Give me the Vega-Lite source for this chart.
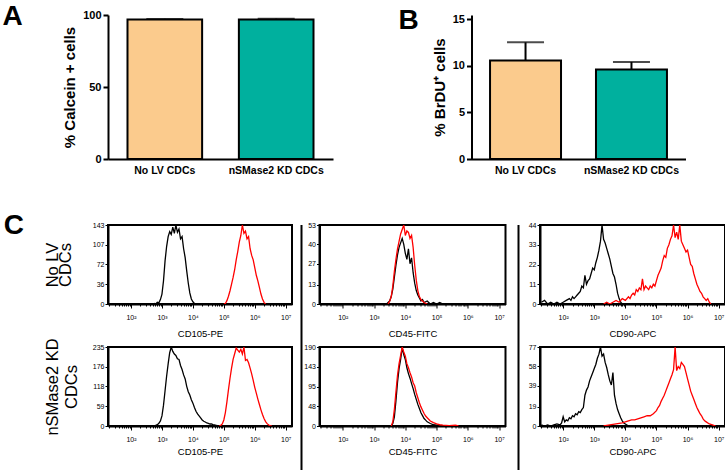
{
"$schema": "https://vega.github.io/schema/vega-lite/v6.json",
"padding": {"left": 2, "top": 3, "right": 0, "bottom": 0},
"background": "white",
"config": {"font": "Liberation Sans", "view": {"stroke": null}, "axis": {"domainColor": "black", "tickColor": "black", "labelColor": "black", "titleColor": "black", "grid": false}},
"datasets": {
"calcein": [{"group": "No LV CDCs", "mean": 96.8, "upper": 97.3}, {"group": "nSMase2 KD CDCs", "mean": 96.9, "upper": 97.4}],
"brdu": [{"group": "No LV CDCs", "mean": 10.55, "upper": 12.5}, {"group": "nSMase2 KD CDCs", "mean": 9.6, "upper": 10.4}],
"pct": [{"p": "a1", "t": "94%"}, {"p": "a2", "t": "0.8%"}, {"p": "a3", "t": "99%"}, {"p": "b1", "t": "95%"}, {"p": "b2", "t": "0.5%"}, {"p": "b3", "t": "98%"}],
"hist": [
{"p":"a1","s":"c","x":501.2,"y":0},{"p":"a1","s":"c","x":562.3,"y":1},{"p":"a1","s":"c","x":631,"y":0},{"p":"a1","s":"c","x":707.9,"y":3},{"p":"a1","s":"c","x":794.3,"y":2},{"p":"a1","s":"c","x":891.3,"y":8},{"p":"a1","s":"c","x":1000,"y":18},{"p":"a1","s":"c","x":1122,"y":42},{"p":"a1","s":"c","x":1259,"y":78},{"p":"a1","s":"c","x":1413,"y":104},{"p":"a1","s":"c","x":1585,"y":122},{"p":"a1","s":"c","x":1778,"y":131},{"p":"a1","s":"c","x":1995,"y":126},{"p":"a1","s":"c","x":2239,"y":139},{"p":"a1","s":"c","x":2512,"y":128},{"p":"a1","s":"c","x":2818,"y":143},{"p":"a1","s":"c","x":3162,"y":130},{"p":"a1","s":"c","x":3548,"y":136},{"p":"a1","s":"c","x":3981,"y":118},{"p":"a1","s":"c","x":4467,"y":122},{"p":"a1","s":"c","x":5012,"y":100},{"p":"a1","s":"c","x":5623,"y":84},{"p":"a1","s":"c","x":6310,"y":60},{"p":"a1","s":"c","x":7079,"y":38},{"p":"a1","s":"c","x":7943,"y":20},{"p":"a1","s":"c","x":8913,"y":9},{"p":"a1","s":"c","x":10000,"y":4},{"p":"a1","s":"c","x":11220,"y":1},{"p":"a1","s":"c","x":12590,"y":0},
{"p":"a1","s":"s","x":100000,"y":0},{"p":"a1","s":"s","x":112200,"y":1},{"p":"a1","s":"s","x":125900,"y":6},{"p":"a1","s":"s","x":141300,"y":14},{"p":"a1","s":"s","x":158500,"y":24},{"p":"a1","s":"s","x":177800,"y":36},{"p":"a1","s":"s","x":199500,"y":48},{"p":"a1","s":"s","x":223900,"y":62},{"p":"a1","s":"s","x":251200,"y":80},{"p":"a1","s":"s","x":281800,"y":95},{"p":"a1","s":"s","x":316200,"y":112},{"p":"a1","s":"s","x":354800,"y":124},{"p":"a1","s":"s","x":398100,"y":143},{"p":"a1","s":"s","x":446700,"y":128},{"p":"a1","s":"s","x":501200,"y":132},{"p":"a1","s":"s","x":562300,"y":118},{"p":"a1","s":"s","x":631000,"y":122},{"p":"a1","s":"s","x":707900,"y":100},{"p":"a1","s":"s","x":794300,"y":88},{"p":"a1","s":"s","x":891300,"y":80},{"p":"a1","s":"s","x":1000000,"y":66},{"p":"a1","s":"s","x":1122000,"y":52},{"p":"a1","s":"s","x":1259000,"y":42},{"p":"a1","s":"s","x":1413000,"y":30},{"p":"a1","s":"s","x":1585000,"y":18},{"p":"a1","s":"s","x":1778000,"y":9},{"p":"a1","s":"s","x":1995000,"y":3},{"p":"a1","s":"s","x":2239000,"y":0},
{"p":"a2","s":"c","x":2512,"y":0},{"p":"a2","s":"c","x":2818,"y":1},{"p":"a2","s":"c","x":3162,"y":2},{"p":"a2","s":"c","x":3548,"y":5},{"p":"a2","s":"c","x":3981,"y":10},{"p":"a2","s":"c","x":4467,"y":18},{"p":"a2","s":"c","x":5012,"y":26},{"p":"a2","s":"c","x":5623,"y":33},{"p":"a2","s":"c","x":6310,"y":38},{"p":"a2","s":"c","x":7079,"y":41},{"p":"a2","s":"c","x":7943,"y":44},{"p":"a2","s":"c","x":8913,"y":40},{"p":"a2","s":"c","x":10000,"y":34},{"p":"a2","s":"c","x":11220,"y":30},{"p":"a2","s":"c","x":12590,"y":37},{"p":"a2","s":"c","x":14130,"y":27},{"p":"a2","s":"c","x":15850,"y":31},{"p":"a2","s":"c","x":17780,"y":21},{"p":"a2","s":"c","x":19950,"y":14},{"p":"a2","s":"c","x":22390,"y":9},{"p":"a2","s":"c","x":25120,"y":6},{"p":"a2","s":"c","x":28180,"y":4},{"p":"a2","s":"c","x":31620,"y":2},{"p":"a2","s":"c","x":35480,"y":3},{"p":"a2","s":"c","x":39810,"y":1},{"p":"a2","s":"c","x":50120,"y":2},{"p":"a2","s":"c","x":63100,"y":0},{"p":"a2","s":"c","x":79430,"y":1},{"p":"a2","s":"c","x":100000,"y":0},{"p":"a2","s":"c","x":125900,"y":1},{"p":"a2","s":"c","x":158500,"y":0},
{"p":"a2","s":"s","x":2818,"y":0},{"p":"a2","s":"s","x":3162,"y":2},{"p":"a2","s":"s","x":3548,"y":5},{"p":"a2","s":"s","x":3981,"y":12},{"p":"a2","s":"s","x":4467,"y":22},{"p":"a2","s":"s","x":5012,"y":30},{"p":"a2","s":"s","x":5623,"y":37},{"p":"a2","s":"s","x":6310,"y":42},{"p":"a2","s":"s","x":7079,"y":47},{"p":"a2","s":"s","x":7943,"y":50},{"p":"a2","s":"s","x":8913,"y":53},{"p":"a2","s":"s","x":10000,"y":46},{"p":"a2","s":"s","x":11220,"y":49},{"p":"a2","s":"s","x":12590,"y":48},{"p":"a2","s":"s","x":14130,"y":44},{"p":"a2","s":"s","x":15850,"y":46},{"p":"a2","s":"s","x":17780,"y":38},{"p":"a2","s":"s","x":19950,"y":26},{"p":"a2","s":"s","x":22390,"y":16},{"p":"a2","s":"s","x":25120,"y":9},{"p":"a2","s":"s","x":28180,"y":5},{"p":"a2","s":"s","x":31620,"y":3},{"p":"a2","s":"s","x":35480,"y":2},{"p":"a2","s":"s","x":39810,"y":1},{"p":"a2","s":"s","x":50120,"y":0},
{"p":"a3","s":"c","x":19.95,"y":1},{"p":"a3","s":"c","x":25.12,"y":2},{"p":"a3","s":"c","x":31.62,"y":0},{"p":"a3","s":"c","x":39.81,"y":1},{"p":"a3","s":"c","x":50.12,"y":0},{"p":"a3","s":"c","x":63.1,"y":1},{"p":"a3","s":"c","x":79.43,"y":0},{"p":"a3","s":"c","x":100,"y":1},{"p":"a3","s":"c","x":125.9,"y":2},{"p":"a3","s":"c","x":158.5,"y":3},{"p":"a3","s":"c","x":177.8,"y":2},{"p":"a3","s":"c","x":199.5,"y":4},{"p":"a3","s":"c","x":223.9,"y":3},{"p":"a3","s":"c","x":251.2,"y":4},{"p":"a3","s":"c","x":281.8,"y":5},{"p":"a3","s":"c","x":316.2,"y":6},{"p":"a3","s":"c","x":354.8,"y":7},{"p":"a3","s":"c","x":398.1,"y":10},{"p":"a3","s":"c","x":446.7,"y":9},{"p":"a3","s":"c","x":501.2,"y":16},{"p":"a3","s":"c","x":562.3,"y":11},{"p":"a3","s":"c","x":631,"y":13},{"p":"a3","s":"c","x":707.9,"y":14},{"p":"a3","s":"c","x":794.3,"y":17},{"p":"a3","s":"c","x":891.3,"y":20},{"p":"a3","s":"c","x":1000,"y":19},{"p":"a3","s":"c","x":1122,"y":23},{"p":"a3","s":"c","x":1259,"y":26},{"p":"a3","s":"c","x":1413,"y":30},{"p":"a3","s":"c","x":1585,"y":35},{"p":"a3","s":"c","x":1778,"y":44},{"p":"a3","s":"c","x":1995,"y":36},{"p":"a3","s":"c","x":2239,"y":34},{"p":"a3","s":"c","x":2512,"y":31},{"p":"a3","s":"c","x":2818,"y":28},{"p":"a3","s":"c","x":3162,"y":25},{"p":"a3","s":"c","x":3548,"y":21},{"p":"a3","s":"c","x":3981,"y":17},{"p":"a3","s":"c","x":4467,"y":15},{"p":"a3","s":"c","x":5012,"y":11},{"p":"a3","s":"c","x":5623,"y":6},{"p":"a3","s":"c","x":6310,"y":3},{"p":"a3","s":"c","x":7079,"y":1},{"p":"a3","s":"c","x":7943,"y":0},
{"p":"a3","s":"s","x":1995,"y":0},{"p":"a3","s":"s","x":2512,"y":1},{"p":"a3","s":"s","x":3162,"y":0},{"p":"a3","s":"s","x":3981,"y":1},{"p":"a3","s":"s","x":5012,"y":2},{"p":"a3","s":"s","x":6310,"y":1},{"p":"a3","s":"s","x":7943,"y":3},{"p":"a3","s":"s","x":10000,"y":2},{"p":"a3","s":"s","x":12590,"y":4},{"p":"a3","s":"s","x":14130,"y":3},{"p":"a3","s":"s","x":15850,"y":5},{"p":"a3","s":"s","x":17780,"y":6},{"p":"a3","s":"s","x":19950,"y":5},{"p":"a3","s":"s","x":22390,"y":8},{"p":"a3","s":"s","x":25120,"y":7},{"p":"a3","s":"s","x":28180,"y":9},{"p":"a3","s":"s","x":31620,"y":8},{"p":"a3","s":"s","x":35480,"y":14},{"p":"a3","s":"s","x":39810,"y":8},{"p":"a3","s":"s","x":44670,"y":10},{"p":"a3","s":"s","x":50120,"y":9},{"p":"a3","s":"s","x":56230,"y":8},{"p":"a3","s":"s","x":63100,"y":10},{"p":"a3","s":"s","x":70790,"y":9},{"p":"a3","s":"s","x":79430,"y":11},{"p":"a3","s":"s","x":89130,"y":10},{"p":"a3","s":"s","x":100000,"y":13},{"p":"a3","s":"s","x":112200,"y":16},{"p":"a3","s":"s","x":125900,"y":18},{"p":"a3","s":"s","x":141300,"y":20},{"p":"a3","s":"s","x":158500,"y":24},{"p":"a3","s":"s","x":177800,"y":27},{"p":"a3","s":"s","x":199500,"y":26},{"p":"a3","s":"s","x":223900,"y":31},{"p":"a3","s":"s","x":251200,"y":33},{"p":"a3","s":"s","x":281800,"y":36},{"p":"a3","s":"s","x":316200,"y":38},{"p":"a3","s":"s","x":354800,"y":44},{"p":"a3","s":"s","x":398100,"y":37},{"p":"a3","s":"s","x":446700,"y":40},{"p":"a3","s":"s","x":501200,"y":36},{"p":"a3","s":"s","x":562300,"y":44},{"p":"a3","s":"s","x":631000,"y":35},{"p":"a3","s":"s","x":707900,"y":33},{"p":"a3","s":"s","x":794300,"y":31},{"p":"a3","s":"s","x":891300,"y":29},{"p":"a3","s":"s","x":1000000,"y":30},{"p":"a3","s":"s","x":1122000,"y":26},{"p":"a3","s":"s","x":1259000,"y":22},{"p":"a3","s":"s","x":1413000,"y":21},{"p":"a3","s":"s","x":1585000,"y":17},{"p":"a3","s":"s","x":1778000,"y":14},{"p":"a3","s":"s","x":1995000,"y":11},{"p":"a3","s":"s","x":2239000,"y":9},{"p":"a3","s":"s","x":2512000,"y":7},{"p":"a3","s":"s","x":2818000,"y":6},{"p":"a3","s":"s","x":3162000,"y":4},{"p":"a3","s":"s","x":3548000,"y":3},{"p":"a3","s":"s","x":3981000,"y":2},{"p":"a3","s":"s","x":4467000,"y":3},{"p":"a3","s":"s","x":5012000,"y":1},{"p":"a3","s":"s","x":5623000,"y":0},
{"p":"b1","s":"c","x":562.3,"y":0},{"p":"b1","s":"c","x":631,"y":2},{"p":"b1","s":"c","x":707.9,"y":4},{"p":"b1","s":"c","x":794.3,"y":8},{"p":"b1","s":"c","x":891.3,"y":15},{"p":"b1","s":"c","x":1000,"y":30},{"p":"b1","s":"c","x":1122,"y":62},{"p":"b1","s":"c","x":1259,"y":105},{"p":"b1","s":"c","x":1413,"y":148},{"p":"b1","s":"c","x":1585,"y":185},{"p":"b1","s":"c","x":1778,"y":218},{"p":"b1","s":"c","x":1995,"y":235},{"p":"b1","s":"c","x":2239,"y":222},{"p":"b1","s":"c","x":2512,"y":214},{"p":"b1","s":"c","x":2818,"y":210},{"p":"b1","s":"c","x":3162,"y":200},{"p":"b1","s":"c","x":3548,"y":198},{"p":"b1","s":"c","x":3981,"y":180},{"p":"b1","s":"c","x":4467,"y":168},{"p":"b1","s":"c","x":5012,"y":152},{"p":"b1","s":"c","x":5623,"y":140},{"p":"b1","s":"c","x":6310,"y":118},{"p":"b1","s":"c","x":7079,"y":102},{"p":"b1","s":"c","x":7943,"y":92},{"p":"b1","s":"c","x":8913,"y":78},{"p":"b1","s":"c","x":10000,"y":68},{"p":"b1","s":"c","x":11220,"y":55},{"p":"b1","s":"c","x":12590,"y":44},{"p":"b1","s":"c","x":14130,"y":36},{"p":"b1","s":"c","x":15850,"y":30},{"p":"b1","s":"c","x":17780,"y":24},{"p":"b1","s":"c","x":19950,"y":18},{"p":"b1","s":"c","x":22390,"y":14},{"p":"b1","s":"c","x":25120,"y":12},{"p":"b1","s":"c","x":28180,"y":9},{"p":"b1","s":"c","x":31620,"y":8},{"p":"b1","s":"c","x":35480,"y":6},{"p":"b1","s":"c","x":39810,"y":6},{"p":"b1","s":"c","x":44670,"y":4},{"p":"b1","s":"c","x":50120,"y":3},{"p":"b1","s":"c","x":56230,"y":2},{"p":"b1","s":"c","x":63100,"y":1},{"p":"b1","s":"c","x":70790,"y":0},
{"p":"b1","s":"s","x":70790,"y":0},{"p":"b1","s":"s","x":79430,"y":2},{"p":"b1","s":"s","x":89130,"y":6},{"p":"b1","s":"s","x":100000,"y":18},{"p":"b1","s":"s","x":112200,"y":40},{"p":"b1","s":"s","x":125900,"y":72},{"p":"b1","s":"s","x":141300,"y":108},{"p":"b1","s":"s","x":158500,"y":142},{"p":"b1","s":"s","x":177800,"y":172},{"p":"b1","s":"s","x":199500,"y":198},{"p":"b1","s":"s","x":223900,"y":215},{"p":"b1","s":"s","x":251200,"y":232},{"p":"b1","s":"s","x":281800,"y":226},{"p":"b1","s":"s","x":316200,"y":220},{"p":"b1","s":"s","x":354800,"y":228},{"p":"b1","s":"s","x":398100,"y":214},{"p":"b1","s":"s","x":446700,"y":235},{"p":"b1","s":"s","x":501200,"y":195},{"p":"b1","s":"s","x":562300,"y":198},{"p":"b1","s":"s","x":631000,"y":188},{"p":"b1","s":"s","x":707900,"y":172},{"p":"b1","s":"s","x":794300,"y":155},{"p":"b1","s":"s","x":891300,"y":136},{"p":"b1","s":"s","x":1000000,"y":115},{"p":"b1","s":"s","x":1122000,"y":98},{"p":"b1","s":"s","x":1259000,"y":80},{"p":"b1","s":"s","x":1413000,"y":64},{"p":"b1","s":"s","x":1585000,"y":48},{"p":"b1","s":"s","x":1778000,"y":34},{"p":"b1","s":"s","x":1995000,"y":22},{"p":"b1","s":"s","x":2239000,"y":13},{"p":"b1","s":"s","x":2512000,"y":7},{"p":"b1","s":"s","x":2818000,"y":3},{"p":"b1","s":"s","x":3162000,"y":1},{"p":"b1","s":"s","x":3548000,"y":0},
{"p":"b2","s":"c","x":3548,"y":0},{"p":"b2","s":"c","x":3981,"y":6},{"p":"b2","s":"c","x":4467,"y":22},{"p":"b2","s":"c","x":5012,"y":60},{"p":"b2","s":"c","x":5623,"y":105},{"p":"b2","s":"c","x":6310,"y":138},{"p":"b2","s":"c","x":7079,"y":160},{"p":"b2","s":"c","x":7943,"y":188},{"p":"b2","s":"c","x":8913,"y":172},{"p":"b2","s":"c","x":10000,"y":160},{"p":"b2","s":"c","x":11220,"y":140},{"p":"b2","s":"c","x":12590,"y":126},{"p":"b2","s":"c","x":14130,"y":115},{"p":"b2","s":"c","x":15850,"y":102},{"p":"b2","s":"c","x":17780,"y":90},{"p":"b2","s":"c","x":19950,"y":76},{"p":"b2","s":"c","x":22390,"y":64},{"p":"b2","s":"c","x":25120,"y":52},{"p":"b2","s":"c","x":28180,"y":42},{"p":"b2","s":"c","x":31620,"y":32},{"p":"b2","s":"c","x":35480,"y":25},{"p":"b2","s":"c","x":39810,"y":18},{"p":"b2","s":"c","x":44670,"y":14},{"p":"b2","s":"c","x":50120,"y":10},{"p":"b2","s":"c","x":63100,"y":6},{"p":"b2","s":"c","x":79430,"y":3},{"p":"b2","s":"c","x":100000,"y":2},{"p":"b2","s":"c","x":125900,"y":1},{"p":"b2","s":"c","x":158500,"y":0},
{"p":"b2","s":"s","x":3548,"y":0},{"p":"b2","s":"s","x":3981,"y":10},{"p":"b2","s":"s","x":4467,"y":40},{"p":"b2","s":"s","x":5012,"y":82},{"p":"b2","s":"s","x":5623,"y":122},{"p":"b2","s":"s","x":6310,"y":150},{"p":"b2","s":"s","x":7079,"y":170},{"p":"b2","s":"s","x":7943,"y":190},{"p":"b2","s":"s","x":8913,"y":178},{"p":"b2","s":"s","x":10000,"y":168},{"p":"b2","s":"s","x":11220,"y":150},{"p":"b2","s":"s","x":12590,"y":140},{"p":"b2","s":"s","x":14130,"y":128},{"p":"b2","s":"s","x":15850,"y":118},{"p":"b2","s":"s","x":17780,"y":104},{"p":"b2","s":"s","x":19950,"y":96},{"p":"b2","s":"s","x":22390,"y":80},{"p":"b2","s":"s","x":25120,"y":68},{"p":"b2","s":"s","x":28180,"y":56},{"p":"b2","s":"s","x":31620,"y":46},{"p":"b2","s":"s","x":35480,"y":38},{"p":"b2","s":"s","x":39810,"y":30},{"p":"b2","s":"s","x":44670,"y":24},{"p":"b2","s":"s","x":50120,"y":20},{"p":"b2","s":"s","x":63100,"y":12},{"p":"b2","s":"s","x":79430,"y":8},{"p":"b2","s":"s","x":100000,"y":5},{"p":"b2","s":"s","x":125900,"y":3},{"p":"b2","s":"s","x":158500,"y":2},{"p":"b2","s":"s","x":251200,"y":1},{"p":"b2","s":"s","x":398100,"y":2},{"p":"b2","s":"s","x":501200,"y":0},
{"p":"b3","s":"c","x":19.95,"y":1},{"p":"b3","s":"c","x":25.12,"y":0},{"p":"b3","s":"c","x":31.62,"y":1},{"p":"b3","s":"c","x":39.81,"y":0},{"p":"b3","s":"c","x":50.12,"y":1},{"p":"b3","s":"c","x":63.1,"y":2},{"p":"b3","s":"c","x":79.43,"y":1},{"p":"b3","s":"c","x":89.13,"y":3},{"p":"b3","s":"c","x":100,"y":9},{"p":"b3","s":"c","x":112.2,"y":4},{"p":"b3","s":"c","x":125.9,"y":6},{"p":"b3","s":"c","x":141.3,"y":5},{"p":"b3","s":"c","x":158.5,"y":8},{"p":"b3","s":"c","x":177.8,"y":7},{"p":"b3","s":"c","x":199.5,"y":10},{"p":"b3","s":"c","x":223.9,"y":9},{"p":"b3","s":"c","x":251.2,"y":12},{"p":"b3","s":"c","x":281.8,"y":11},{"p":"b3","s":"c","x":316.2,"y":14},{"p":"b3","s":"c","x":354.8,"y":13},{"p":"b3","s":"c","x":398.1,"y":16},{"p":"b3","s":"c","x":446.7,"y":18},{"p":"b3","s":"c","x":501.2,"y":30},{"p":"b3","s":"c","x":562.3,"y":35},{"p":"b3","s":"c","x":631,"y":38},{"p":"b3","s":"c","x":707.9,"y":44},{"p":"b3","s":"c","x":794.3,"y":48},{"p":"b3","s":"c","x":891.3,"y":52},{"p":"b3","s":"c","x":1000,"y":56},{"p":"b3","s":"c","x":1122,"y":60},{"p":"b3","s":"c","x":1259,"y":66},{"p":"b3","s":"c","x":1413,"y":70},{"p":"b3","s":"c","x":1585,"y":77},{"p":"b3","s":"c","x":1778,"y":68},{"p":"b3","s":"c","x":1995,"y":70},{"p":"b3","s":"c","x":2239,"y":62},{"p":"b3","s":"c","x":2512,"y":57},{"p":"b3","s":"c","x":2818,"y":50},{"p":"b3","s":"c","x":3162,"y":44},{"p":"b3","s":"c","x":3548,"y":40},{"p":"b3","s":"c","x":3981,"y":52},{"p":"b3","s":"c","x":4467,"y":30},{"p":"b3","s":"c","x":5012,"y":22},{"p":"b3","s":"c","x":5623,"y":16},{"p":"b3","s":"c","x":6310,"y":12},{"p":"b3","s":"c","x":7079,"y":8},{"p":"b3","s":"c","x":7943,"y":5},{"p":"b3","s":"c","x":8913,"y":3},{"p":"b3","s":"c","x":10000,"y":2},{"p":"b3","s":"c","x":12590,"y":0},
{"p":"b3","s":"s","x":1995,"y":0},{"p":"b3","s":"s","x":3162,"y":1},{"p":"b3","s":"s","x":5012,"y":2},{"p":"b3","s":"s","x":7943,"y":3},{"p":"b3","s":"s","x":10000,"y":4},{"p":"b3","s":"s","x":12590,"y":5},{"p":"b3","s":"s","x":15850,"y":6},{"p":"b3","s":"s","x":19950,"y":6},{"p":"b3","s":"s","x":25120,"y":7},{"p":"b3","s":"s","x":31620,"y":8},{"p":"b3","s":"s","x":39810,"y":9},{"p":"b3","s":"s","x":50120,"y":10},{"p":"b3","s":"s","x":63100,"y":10},{"p":"b3","s":"s","x":79430,"y":12},{"p":"b3","s":"s","x":100000,"y":15},{"p":"b3","s":"s","x":112200,"y":18},{"p":"b3","s":"s","x":125900,"y":20},{"p":"b3","s":"s","x":141300,"y":24},{"p":"b3","s":"s","x":158500,"y":27},{"p":"b3","s":"s","x":177800,"y":30},{"p":"b3","s":"s","x":199500,"y":34},{"p":"b3","s":"s","x":223900,"y":38},{"p":"b3","s":"s","x":251200,"y":42},{"p":"b3","s":"s","x":281800,"y":46},{"p":"b3","s":"s","x":316200,"y":50},{"p":"b3","s":"s","x":354800,"y":55},{"p":"b3","s":"s","x":398100,"y":77},{"p":"b3","s":"s","x":446700,"y":54},{"p":"b3","s":"s","x":501200,"y":58},{"p":"b3","s":"s","x":562300,"y":56},{"p":"b3","s":"s","x":631000,"y":62},{"p":"b3","s":"s","x":707900,"y":60},{"p":"b3","s":"s","x":794300,"y":58},{"p":"b3","s":"s","x":891300,"y":52},{"p":"b3","s":"s","x":1000000,"y":46},{"p":"b3","s":"s","x":1122000,"y":40},{"p":"b3","s":"s","x":1259000,"y":34},{"p":"b3","s":"s","x":1413000,"y":30},{"p":"b3","s":"s","x":1585000,"y":26},{"p":"b3","s":"s","x":1778000,"y":22},{"p":"b3","s":"s","x":1995000,"y":18},{"p":"b3","s":"s","x":2239000,"y":15},{"p":"b3","s":"s","x":2512000,"y":12},{"p":"b3","s":"s","x":2818000,"y":10},{"p":"b3","s":"s","x":3162000,"y":7},{"p":"b3","s":"s","x":3548000,"y":5},{"p":"b3","s":"s","x":3981000,"y":4},{"p":"b3","s":"s","x":5012000,"y":2},{"p":"b3","s":"s","x":6310000,"y":1},{"p":"b3","s":"s","x":7943000,"y":0}
]
},
"columns": 1,
"align": "none",
"spacing": 35,
"concat": [
{
"spacing": 65.5,
"hconcat": [
{
"width": 225, "height": 144,
"title": {"text": "A", "anchor": "start", "frame": "group", "fontSize": 28, "fontWeight": "bold", "baseline": "alphabetic", "offset": -44, "dx": -105.5, "color": "black"},
"data": {"name": "calcein"},
"encoding": {"x": {"field": "group", "type": "nominal", "sort": null, "scale": {"paddingInner": 0.33, "paddingOuter": 0.175}, "axis": {"title": null, "ticks": false, "labelAngle": 0, "labelFontSize": 10.5, "labelFontWeight": "bold", "labelPadding": 6, "domainWidth": 2}}},
"layer": [
{"mark": {"type": "bar", "stroke": "black", "strokeWidth": 2}, "encoding": {"y": {"field": "mean", "type": "quantitative", "scale": {"domain": [0, 100], "nice": false}, "axis": {"values": [0, 25, 50, 75, 100], "title": "% Calcein + cells", "titleFontSize": 15, "titleFontWeight": "bold", "labelFontSize": 11, "labelFontWeight": "bold", "tickSize": 5, "tickWidth": 2, "domainWidth": 2, "labelPadding": 2, "titlePadding": 5}}, "color": {"field": "group", "type": "nominal", "scale": {"domain": ["No LV CDCs", "nSMase2 KD CDCs"], "range": ["#FBCB8D", "#00B09E"]}, "legend": null}}},
{"mark": {"type": "rule", "color": "black", "strokeWidth": 2}, "encoding": {"y": {"field": "mean", "type": "quantitative"}, "y2": {"field": "upper"}}},
{"mark": {"type": "tick", "color": "black", "thickness": 2, "size": 37}, "encoding": {"y": {"field": "upper", "type": "quantitative"}}}
]
},
{
"width": 214, "height": 144,
"title": {"text": "B", "anchor": "start", "frame": "group", "fontSize": 28, "fontWeight": "bold", "baseline": "alphabetic", "offset": -44, "dx": -73, "color": "black"},
"data": {"name": "brdu"},
"encoding": {"x": {"field": "group", "type": "nominal", "sort": null, "scale": {"paddingInner": 0.33, "paddingOuter": 0.175}, "axis": {"title": null, "ticks": false, "labelAngle": 0, "labelFontSize": 10.5, "labelFontWeight": "bold", "labelPadding": 6, "domainWidth": 2}}},
"layer": [
{"mark": {"type": "bar", "stroke": "black", "strokeWidth": 2}, "encoding": {"y": {"field": "mean", "type": "quantitative", "scale": {"domain": [0, 15.43], "nice": false}, "axis": {"values": [0, 5, 10, 15], "title": "% BrDU⁺ cells", "titleFontSize": 15, "titleFontWeight": "bold", "labelFontSize": 11, "labelFontWeight": "bold", "tickSize": 5, "tickWidth": 2, "domainWidth": 2, "labelPadding": 2, "titlePadding": 5}}, "color": {"field": "group", "type": "nominal", "scale": {"domain": ["No LV CDCs", "nSMase2 KD CDCs"], "range": ["#FBCB8D", "#00B09E"]}, "legend": null}}},
{"mark": {"type": "rule", "color": "black", "strokeWidth": 2}, "encoding": {"y": {"field": "mean", "type": "quantitative"}, "y2": {"field": "upper"}}},
{"mark": {"type": "tick", "color": "black", "thickness": 2, "size": 37}, "encoding": {"y": {"field": "upper", "type": "quantitative"}}}
]
}
]
},
{
"title": {"text": "C", "anchor": "start", "frame": "bounds", "fontSize": 28, "fontWeight": "bold", "baseline": "alphabetic", "offset": -41.5, "dx": -40, "color": "black"},
"spacing": 7.5,
"hconcat": [
{
"bounds": "flush", "spacing": 43,
"vconcat": [
{
"width": 184, "height": 79, "view": {"stroke": "black", "strokeWidth": 2},
"encoding": {
"x": {"field": "x", "type": "quantitative", "scale": {"type": "log", "domain": [18, 16000000], "nice": false}, "axis": {"title": "CD105-PE", "titleFontSize": 9.5, "titleFontWeight": "normal", "titlePadding": 8, "values": [20,30,40,50,60,70,80,90,100,200,300,400,500,600,700,800,900,1000,2000,3000,4000,5000,6000,7000,8000,9000,10000,20000,30000,40000,50000,60000,70000,80000,90000,100000,200000,300000,400000,500000,600000,700000,800000,900000,1000000,2000000,3000000,4000000,5000000,6000000,7000000,8000000,9000000,10000000], "labelExpr": "abs(log(datum.value)/LN10 - round(log(datum.value)/LN10)) < 0.001 ? '10' + ['⁰','¹','²','³','⁴','⁵','⁶','⁷'][round(log(datum.value)/LN10)] : ''", "labelFontSize": 7, "labelPadding": 5.5, "labelFlush": false, "labelOverlap": false, "tickSize": {"condition": {"test": "abs(log(datum.value)/LN10 - round(log(datum.value)/LN10)) < 0.001", "value": 4}, "value": 2}, "tickWidth": 1, "domainWidth": 2}},
"y": {"field": "y", "type": "quantitative", "scale": {"domain": [0, 143], "nice": false}, "axis": {"title": ["No LV", "CDCs"], "titleFontSize": 16.5, "titleFontWeight": "normal", "titleLineHeight": 13, "titlePadding": 18.5, "values": [0, 36, 72, 107, 143], "labelFontSize": 7, "labelPadding": 1, "tickSize": 3, "tickWidth": 1, "domainWidth": 2}}},
"layer": [
{"data": {"name": "hist"}, "transform": [{"filter": "datum.p === 'a1' && datum.s === 'c'"}], "mark": {"type": "line", "color": "black", "strokeWidth": 1.3, "clip": true}, "encoding": {}},
{"data": {"name": "hist"}, "transform": [{"filter": "datum.p === 'a1' && datum.s === 's'"}], "mark": {"type": "line", "color": "#FF0000", "strokeWidth": 1.3, "clip": true}, "encoding": {}},
{"data": {"name": "pct"}, "transform": [{"filter": "datum.p === 'a1'"}], "mark": {"type": "text", "align": "right", "baseline": "top", "dx": 2, "dy": 6, "fontSize": 14, "color": "black"}, "encoding": {"text": {"field": "t"}, "x": {"datum": 10000000}, "y": {"datum": 143}}}
]
},
{
"width": 184, "height": 79, "view": {"stroke": "black", "strokeWidth": 2},
"encoding": {
"x": {"field": "x", "type": "quantitative", "scale": {"type": "log", "domain": [18, 16000000], "nice": false}, "axis": {"title": "CD105-PE", "titleFontSize": 9.5, "titleFontWeight": "normal", "titlePadding": 4, "values": [20,30,40,50,60,70,80,90,100,200,300,400,500,600,700,800,900,1000,2000,3000,4000,5000,6000,7000,8000,9000,10000,20000,30000,40000,50000,60000,70000,80000,90000,100000,200000,300000,400000,500000,600000,700000,800000,900000,1000000,2000000,3000000,4000000,5000000,6000000,7000000,8000000,9000000,10000000], "labelExpr": "abs(log(datum.value)/LN10 - round(log(datum.value)/LN10)) < 0.001 ? '10' + ['⁰','¹','²','³','⁴','⁵','⁶','⁷'][round(log(datum.value)/LN10)] : ''", "labelFontSize": 7, "labelPadding": 5.5, "labelFlush": false, "labelOverlap": false, "tickSize": {"condition": {"test": "abs(log(datum.value)/LN10 - round(log(datum.value)/LN10)) < 0.001", "value": 4}, "value": 2}, "tickWidth": 1, "domainWidth": 2}},
"y": {"field": "y", "type": "quantitative", "scale": {"domain": [0, 235], "nice": false}, "axis": {"title": ["nSMase2 KD", "CDCs"], "titleFontSize": 16.5, "titleFontWeight": "normal", "titleLineHeight": 19, "titlePadding": 12.5, "values": [0, 59, 118, 176, 235], "labelFontSize": 7, "labelPadding": 1, "tickSize": 3, "tickWidth": 1, "domainWidth": 2}}},
"layer": [
{"data": {"name": "hist"}, "transform": [{"filter": "datum.p === 'b1' && datum.s === 'c'"}], "mark": {"type": "line", "color": "black", "strokeWidth": 1.3, "clip": true}, "encoding": {}},
{"data": {"name": "hist"}, "transform": [{"filter": "datum.p === 'b1' && datum.s === 's'"}], "mark": {"type": "line", "color": "#FF0000", "strokeWidth": 1.3, "clip": true}, "encoding": {}},
{"data": {"name": "pct"}, "transform": [{"filter": "datum.p === 'b1'"}], "mark": {"type": "text", "align": "right", "baseline": "top", "dx": 2, "dy": 6, "fontSize": 14, "color": "black"}, "encoding": {"text": {"field": "t"}, "x": {"datum": 10000000}, "y": {"datum": 235}}}
]
}
]
},
{
"spacing": 11,
"hconcat": [
{
"spacing": 0,
"hconcat": [
{"width": 2, "height": 250, "view": {"fill": "black", "stroke": null}, "data": {"values": [{}]}, "mark": {"type": "text", "text": ""}, "encoding": {}},
{
"bounds": "flush", "spacing": 43,
"vconcat": [
{
"width": 186, "height": 79, "view": {"stroke": "black", "strokeWidth": 2},
"encoding": {
"x": {"field": "x", "type": "quantitative", "scale": {"type": "log", "domain": [18, 16000000], "nice": false}, "axis": {"title": "CD45-FITC", "titleFontSize": 9.5, "titleFontWeight": "normal", "titlePadding": 8, "values": [20,30,40,50,60,70,80,90,100,200,300,400,500,600,700,800,900,1000,2000,3000,4000,5000,6000,7000,8000,9000,10000,20000,30000,40000,50000,60000,70000,80000,90000,100000,200000,300000,400000,500000,600000,700000,800000,900000,1000000,2000000,3000000,4000000,5000000,6000000,7000000,8000000,9000000,10000000], "labelExpr": "abs(log(datum.value)/LN10 - round(log(datum.value)/LN10)) < 0.001 ? '10' + ['⁰','¹','²','³','⁴','⁵','⁶','⁷'][round(log(datum.value)/LN10)] : ''", "labelFontSize": 7, "labelPadding": 5.5, "labelFlush": false, "labelOverlap": false, "tickSize": {"condition": {"test": "abs(log(datum.value)/LN10 - round(log(datum.value)/LN10)) < 0.001", "value": 4}, "value": 2}, "tickWidth": 1, "domainWidth": 2}},
"y": {"field": "y", "type": "quantitative", "scale": {"domain": [0, 53], "nice": false}, "axis": {"title": null, "values": [0, 13, 27, 40, 53], "labelFontSize": 7, "labelPadding": 1, "tickSize": 3, "tickWidth": 1, "domainWidth": 2}}},
"layer": [
{"data": {"name": "hist"}, "transform": [{"filter": "datum.p === 'a2' && datum.s === 'c'"}], "mark": {"type": "line", "color": "black", "strokeWidth": 1.3, "clip": true}, "encoding": {}},
{"data": {"name": "hist"}, "transform": [{"filter": "datum.p === 'a2' && datum.s === 's'"}], "mark": {"type": "line", "color": "#FF0000", "strokeWidth": 1.3, "clip": true}, "encoding": {}},
{"data": {"name": "pct"}, "transform": [{"filter": "datum.p === 'a2'"}], "mark": {"type": "text", "align": "right", "baseline": "top", "dx": 2, "dy": 6, "fontSize": 14, "color": "black"}, "encoding": {"text": {"field": "t"}, "x": {"datum": 10000000}, "y": {"datum": 53}}}
]
},
{
"width": 186, "height": 79, "view": {"stroke": "black", "strokeWidth": 2},
"encoding": {
"x": {"field": "x", "type": "quantitative", "scale": {"type": "log", "domain": [18, 16000000], "nice": false}, "axis": {"title": "CD45-FITC", "titleFontSize": 9.5, "titleFontWeight": "normal", "titlePadding": 4, "values": [20,30,40,50,60,70,80,90,100,200,300,400,500,600,700,800,900,1000,2000,3000,4000,5000,6000,7000,8000,9000,10000,20000,30000,40000,50000,60000,70000,80000,90000,100000,200000,300000,400000,500000,600000,700000,800000,900000,1000000,2000000,3000000,4000000,5000000,6000000,7000000,8000000,9000000,10000000], "labelExpr": "abs(log(datum.value)/LN10 - round(log(datum.value)/LN10)) < 0.001 ? '10' + ['⁰','¹','²','³','⁴','⁵','⁶','⁷'][round(log(datum.value)/LN10)] : ''", "labelFontSize": 7, "labelPadding": 5.5, "labelFlush": false, "labelOverlap": false, "tickSize": {"condition": {"test": "abs(log(datum.value)/LN10 - round(log(datum.value)/LN10)) < 0.001", "value": 4}, "value": 2}, "tickWidth": 1, "domainWidth": 2}},
"y": {"field": "y", "type": "quantitative", "scale": {"domain": [0, 190], "nice": false}, "axis": {"title": null, "values": [0, 48, 95, 143, 190], "labelFontSize": 7, "labelPadding": 1, "tickSize": 3, "tickWidth": 1, "domainWidth": 2}}},
"layer": [
{"data": {"name": "hist"}, "transform": [{"filter": "datum.p === 'b2' && datum.s === 'c'"}], "mark": {"type": "line", "color": "black", "strokeWidth": 1.3, "clip": true}, "encoding": {}},
{"data": {"name": "hist"}, "transform": [{"filter": "datum.p === 'b2' && datum.s === 's'"}], "mark": {"type": "line", "color": "#FF0000", "strokeWidth": 1.3, "clip": true}, "encoding": {}},
{"data": {"name": "pct"}, "transform": [{"filter": "datum.p === 'b2'"}], "mark": {"type": "text", "align": "right", "baseline": "top", "dx": 2, "dy": 6, "fontSize": 14, "color": "black"}, "encoding": {"text": {"field": "t"}, "x": {"datum": 10000000}, "y": {"datum": 190}}}
]
}
]
}
]
},
{"width": 2, "height": 250, "view": {"fill": "black", "stroke": null}, "data": {"values": [{}]}, "mark": {"type": "text", "text": ""}, "encoding": {}}
]
},
{
"bounds": "flush", "spacing": 43,
"vconcat": [
{
"width": 185, "height": 79, "view": {"stroke": "black", "strokeWidth": 2},
"encoding": {
"x": {"field": "x", "type": "quantitative", "scale": {"type": "log", "domain": [18, 16000000], "nice": false}, "axis": {"title": "CD90-APC", "titleFontSize": 9.5, "titleFontWeight": "normal", "titlePadding": 8, "values": [20,30,40,50,60,70,80,90,100,200,300,400,500,600,700,800,900,1000,2000,3000,4000,5000,6000,7000,8000,9000,10000,20000,30000,40000,50000,60000,70000,80000,90000,100000,200000,300000,400000,500000,600000,700000,800000,900000,1000000,2000000,3000000,4000000,5000000,6000000,7000000,8000000,9000000,10000000], "labelExpr": "abs(log(datum.value)/LN10 - round(log(datum.value)/LN10)) < 0.001 ? '10' + ['⁰','¹','²','³','⁴','⁵','⁶','⁷'][round(log(datum.value)/LN10)] : ''", "labelFontSize": 7, "labelPadding": 5.5, "labelFlush": false, "labelOverlap": false, "tickSize": {"condition": {"test": "abs(log(datum.value)/LN10 - round(log(datum.value)/LN10)) < 0.001", "value": 4}, "value": 2}, "tickWidth": 1, "domainWidth": 2}},
"y": {"field": "y", "type": "quantitative", "scale": {"domain": [0, 44], "nice": false}, "axis": {"title": null, "values": [0, 11, 22, 33, 44], "labelFontSize": 7, "labelPadding": 1, "tickSize": 3, "tickWidth": 1, "domainWidth": 2}}},
"layer": [
{"data": {"name": "hist"}, "transform": [{"filter": "datum.p === 'a3' && datum.s === 'c'"}], "mark": {"type": "line", "color": "black", "strokeWidth": 1.3, "clip": true}, "encoding": {}},
{"data": {"name": "hist"}, "transform": [{"filter": "datum.p === 'a3' && datum.s === 's'"}], "mark": {"type": "line", "color": "#FF0000", "strokeWidth": 1.3, "clip": true}, "encoding": {}},
{"data": {"name": "pct"}, "transform": [{"filter": "datum.p === 'a3'"}], "mark": {"type": "text", "align": "right", "baseline": "top", "dx": 2, "dy": 6, "fontSize": 14, "color": "black"}, "encoding": {"text": {"field": "t"}, "x": {"datum": 10000000}, "y": {"datum": 44}}}
]
},
{
"width": 185, "height": 79, "view": {"stroke": "black", "strokeWidth": 2},
"encoding": {
"x": {"field": "x", "type": "quantitative", "scale": {"type": "log", "domain": [18, 16000000], "nice": false}, "axis": {"title": "CD90-APC", "titleFontSize": 9.5, "titleFontWeight": "normal", "titlePadding": 4, "values": [20,30,40,50,60,70,80,90,100,200,300,400,500,600,700,800,900,1000,2000,3000,4000,5000,6000,7000,8000,9000,10000,20000,30000,40000,50000,60000,70000,80000,90000,100000,200000,300000,400000,500000,600000,700000,800000,900000,1000000,2000000,3000000,4000000,5000000,6000000,7000000,8000000,9000000,10000000], "labelExpr": "abs(log(datum.value)/LN10 - round(log(datum.value)/LN10)) < 0.001 ? '10' + ['⁰','¹','²','³','⁴','⁵','⁶','⁷'][round(log(datum.value)/LN10)] : ''", "labelFontSize": 7, "labelPadding": 5.5, "labelFlush": false, "labelOverlap": false, "tickSize": {"condition": {"test": "abs(log(datum.value)/LN10 - round(log(datum.value)/LN10)) < 0.001", "value": 4}, "value": 2}, "tickWidth": 1, "domainWidth": 2}},
"y": {"field": "y", "type": "quantitative", "scale": {"domain": [0, 77], "nice": false}, "axis": {"title": null, "values": [0, 19, 39, 58, 77], "labelFontSize": 7, "labelPadding": 1, "tickSize": 3, "tickWidth": 1, "domainWidth": 2}}},
"layer": [
{"data": {"name": "hist"}, "transform": [{"filter": "datum.p === 'b3' && datum.s === 'c'"}], "mark": {"type": "line", "color": "black", "strokeWidth": 1.3, "clip": true}, "encoding": {}},
{"data": {"name": "hist"}, "transform": [{"filter": "datum.p === 'b3' && datum.s === 's'"}], "mark": {"type": "line", "color": "#FF0000", "strokeWidth": 1.3, "clip": true}, "encoding": {}},
{"data": {"name": "pct"}, "transform": [{"filter": "datum.p === 'b3'"}], "mark": {"type": "text", "align": "right", "baseline": "top", "dx": 2, "dy": 6, "fontSize": 14, "color": "black"}, "encoding": {"text": {"field": "t"}, "x": {"datum": 10000000}, "y": {"datum": 77}}}
]
}
]
}
]
}
]
}
